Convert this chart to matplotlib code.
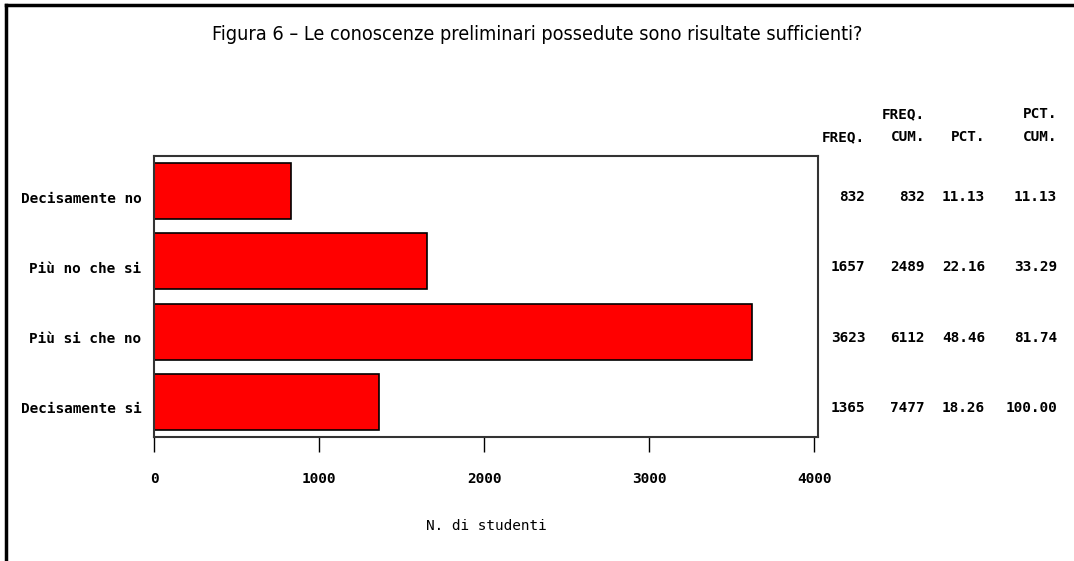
import matplotlib
matplotlib.use("Agg")
import matplotlib.pyplot as plt
from matplotlib.lines import Line2D
from matplotlib.transforms import ScaledTranslation
from matplotlib import font_manager

categories = ["Decisamente no", "Più no che si", "Più si che no", "Decisamente si"]
freq = [832, 1657, 3623, 1365]
freq_cum = [832, 2489, 6112, 7477]
pct = ["11.13", "22.16", "48.46", "18.26"]
pct_cum = ["11.13", "33.29", "81.74", "100.00"]
xticks = [0, 1000, 2000, 3000, 4000]

has_cond = any(f.name == "DejaVu Sans" and f.stretch == "condensed"
               for f in font_manager.fontManager.ttflist)

MONO = ["DejaVu Sans Mono", "DejaVu Sans"]
plt.rcParams["font.family"] = MONO
FS = 10.4

fig = plt.figure(figsize=(10.74, 5.61), dpi=100)
ax = fig.add_axes([154/1074, 1-437/561, 664/1074, 281/561])

y = list(range(len(categories)))
ax.barh(y, freq, height=0.8, color="#ff0000", edgecolor="black", linewidth=1.2)
ax.set_ylim(3.5, -0.5)
ax.set_xlim(0, 4024)
ax.set_yticks(y)
ax.set_yticklabels(categories, fontsize=FS, fontweight="bold")
ax.tick_params(axis="y", length=0, pad=9)
down = ScaledTranslation(0, -6/100, fig.dpi_scale_trans)
for lab in ax.get_yticklabels():
    lab.set_transform(lab.get_transform() + down)
ax.set_xticks(xticks)
ax.set_xticklabels([str(v) for v in xticks], fontsize=FS, fontweight="bold")
ax.tick_params(axis="x", direction="out", length=11, width=1, pad=14)
for s in ax.spines.values():
    s.set_linewidth(1.5)
    s.set_color("#333333")
ax.set_xlabel("N. di studenti", fontsize=FS, labelpad=24)

tr = ax.get_yaxis_transform() + down
cols = [1.071, 1.161, 1.2515, 1.36]
for i in y:
    vals = [str(freq[i]), str(freq_cum[i]), pct[i], pct_cum[i]]
    for c, v in zip(cols, vals):
        ax.text(c, i, v, transform=tr, ha="right", va="center", fontsize=FS,
                fontweight="bold", clip_on=False)
hdr1 = ["", "FREQ.", "", "PCT."]
hdr2 = ["FREQ.", "CUM.", "PCT.", "CUM."]
for c, h1, h2 in zip(cols, hdr1, hdr2):
    ax.text(c, 1.149, h1, transform=ax.transAxes, ha="right", va="center",
            fontsize=FS, fontweight="bold", clip_on=False)
    ax.text(c, 1.068, h2, transform=ax.transAxes, ha="right", va="center",
            fontsize=FS, fontweight="bold", clip_on=False)

title = "Figura 6 \u2013 Le conoscenze preliminari possedute sono risultate sufficienti?"
if has_cond:
    fig.text(537/1074, 1-35/561, title, ha="center", va="center", fontsize=14.25,
             family="DejaVu Sans", fontstretch="condensed")
else:
    fig.text(537/1074, 1-35/561, title, ha="center", va="center", fontsize=12.5,
             family="DejaVu Sans")

fig.add_artist(Line2D([6/1074, 6/1074], [0, 1-5/561], color="black", linewidth=2.5, transform=fig.transFigure))
fig.add_artist(Line2D([6/1074, 1], [1-5/561, 1-5/561], color="black", linewidth=2.5, transform=fig.transFigure))

fig.savefig("out.png", dpi=100)
